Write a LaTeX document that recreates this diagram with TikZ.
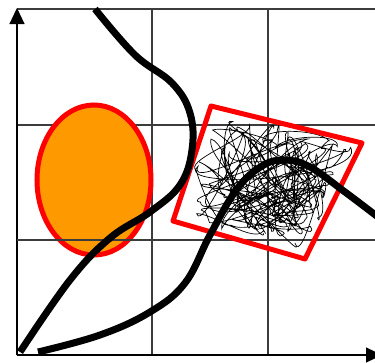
\documentclass[tikz,border=0pt]{standalone}
\usetikzlibrary{arrows.meta,calc}
\definecolor{BlobOrange}{RGB}{255,153,0}
\definecolor{GridGray}{RGB}{60,60,60}

\begin{document}
\begin{tikzpicture}[x=1bp, y=-1bp]
\tikzset{
  gridline/.style={GridGray, line width=1.2bp},
  axis/.style={black, line width=1.2bp, -{Triangle[width=15bp, length=16bp]}},
  blob/.style={draw=red, line width=5bp, fill=BlobOrange},
  frame/.style={draw=red, line width=5bp, line join=round},
  scribble/.style={black, line width=0.7bp},
  curve/.style={black, line width=7bp}
}
  \useasboundingbox (0,0) rectangle (375,363);

  \foreach \gx in {152,268} \draw[gridline] (\gx,9) -- (\gx,355);
  \foreach \gy in {9,125,240} \draw[gridline] (17,\gy) -- (380,\gy);
  \draw[axis] (17,355) -- (17,8);
  \draw[axis] (17,355) -- (382,355);

  \draw[blob] (94,180) ellipse [x radius=57, y radius=75];
  \draw[gridline] (17,240) -- (152,240);

  \coordinate (qa) at (211,106);
  \coordinate (qb) at (362,143);
  \coordinate (qc) at (305,259);
  \coordinate (qd) at (173,221);

  \pgfmathsetseed{11}
  \foreach \k in {0,...,120}{
    \pgfmathsetmacro\pu{0.5+0.46*rand}
    \pgfmathsetmacro\pv{0.5+0.46*rand}
    \coordinate (s\k) at ($($(qa)!\pu!(qb)$)!\pv!($(qd)!\pu!(qc)$)$);
  }
  \draw[scribble] (s0) \foreach \k [evaluate=\k as \ao using {mod(\k*47,360)}, evaluate=\k as \ai using {mod(\k*53+40,360)}] in {1,...,120}{ to[out=\ao, in=\ai, looseness=0.6] (s\k) };

  \draw[frame] (qa) -- (qb) -- (qc) -- (qd) -- cycle;

  \draw[curve] plot[smooth, tension=0.65] coordinates {(95,9) (135,55) (172,83) (190,113) (192,150) (180,185) (150,212) (110,238) (70,280) (20,352)};
  \draw[curve] plot[smooth, tension=0.65] coordinates {(38,352) (100,335) (150,312) (185,283) (210,235) (237,189) (262,166) (285,160) (310,167) (345,192) (378,217)};
\end{tikzpicture}
\end{document}
